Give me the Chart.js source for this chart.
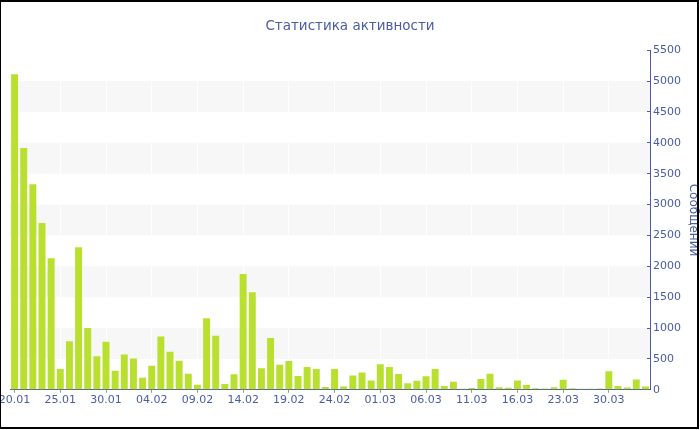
<!DOCTYPE html>
<html>
<head>
<meta charset="utf-8">
<script src="https://cdn.jsdelivr.net/npm/chart.js@4/dist/chart.umd.min.js"></script>
<style>
  body { margin: 0; background: #fff; }
  .wrap { position: relative; width: 700px; height: 430px; }
  .frame { position: absolute; left: 0; top: 0; width: 699px; height: 429px; box-sizing: border-box;
           border: 2px solid #000; border-left-width: 1px; pointer-events: none; }
</style>
</head>
<body>
<div class="wrap">
  <canvas id="myChart"></canvas>
  <div class="frame"></div>
</div>
<script>
// days (some days near the end are missing in the source)
const days = [
  '20.01','21.01','22.01','23.01','24.01','25.01','26.01','27.01','28.01','29.01','30.01','31.01',
  '01.02','02.02','03.02','04.02','05.02','06.02','07.02','08.02','09.02','10.02','11.02','12.02',
  '13.02','14.02','15.02','16.02','17.02','18.02','19.02','20.02','21.02','22.02','23.02','24.02',
  '25.02','26.02','27.02','28.02','01.03','02.03','03.03','04.03','05.03','06.03','07.03','08.03',
  '09.03','10.03','11.03','12.03','13.03','14.03','15.03','16.03','17.03','18.03','19.03','20.03',
  '23.03','24.03','25.03','26.03','27.03','30.03','31.03','01.04','02.04','03.04'
];
const messages = [
  5110, 3915, 3330, 2700, 2130, 335, 785, 2310, 1000, 545, 780, 310,
  570, 505, 195, 390, 865, 615, 470, 260, 80, 1160, 875, 95,
  250, 1875, 1580, 350, 840, 405, 465, 225, 370, 335, 45, 335,
  55, 232, 280, 150, 415, 370, 255, 108, 146, 221, 335, 62,
  129, 16, 30, 173, 259, 40, 32, 151, 78, 27, 22, 43,
  162, 27, 16, 16, 22, 302, 60, 38, 167, 54
];
const yMax = 5500;
const labelEvery = 5;

const blue = '#4a5ca3';
const font = 'DejaVu Sans';

// alternating grey bands behind the plot
const bands = {
  id: 'bands',
  beforeDraw(chart) {
    const {ctx, chartArea, scales} = chart;
    ctx.save();
    ctx.fillStyle = '#f7f7f7';
    for (let v = 500; v < yMax; v += 1000) {
      const y1 = scales.y.getPixelForValue(v + 500);
      const y2 = scales.y.getPixelForValue(v);
      ctx.fillRect(chartArea.left, y1, chartArea.right - chartArea.left, y2 - y1);
    }
    ctx.restore();
  }
};

const ctx = document.getElementById('myChart').getContext('2d');
const myChart = new Chart(ctx, {
  type: 'bar',
  data: {
    labels: days,
    datasets: [{
      label: 'Сообщений',
      data: messages,
      backgroundColor: '#b9e02f',
      borderWidth: 0,
      barPercentage: 0.8,
      categoryPercentage: 0.95
    }]
  },
  options: {
    responsive: true,
    maintainAspectRatio: false,
    animation: false,
    layout: { padding: {left: 0, top: 0, right: 0, bottom: 22} },
    plugins: {
      legend: { display: false },
      tooltip: { enabled: false },
      title: {
        display: true,
        text: 'Статистика активности',
        color: blue,
        font: {family: font, size: 13.5, weight: 'normal'},
        padding: {top: 18, bottom: 16}
      }
    },
    scales: {
      x: {
        offset: true,
        grid: {
          offset: false,
          drawOnChartArea: true,
          color: c => c.index % labelEvery === 0 ? '#ffffff' : 'rgba(0,0,0,0)',
          tickColor: c => c.index % labelEvery === 0 ? '#999999' : 'rgba(0,0,0,0)',
          tickLength: 3
        },
        border: { color: blue, width: 1 },
        ticks: {
          autoSkip: false,
          maxRotation: 0,
          padding: 1,
          color: blue,
          font: {family: font, size: 11},
          callback: (v, i) => i % labelEvery === 0 ? days[i] : ''
        },
        afterFit: s => { s.paddingLeft = 10; s.paddingRight = 0; }
      },
      y: {
        position: 'right',
        min: 0,
        max: yMax,
        grid: {
          drawOnChartArea: false,
          tickLength: -3,
          tickColor: c => c.tick.value % 500 === 0 ? blue : '#aaaaaa'
        },
        border: { color: blue, width: 1 },
        ticks: {
          stepSize: 250,
          maxTicksLimit: 30,
          padding: 6,
          color: blue,
          font: {family: font, size: 11},
          callback: v => v % 500 === 0 ? v : ''
        },
        title: {
          display: true,
          text: 'Сообщений',
          color: blue,
          font: {family: font, size: 12},
          padding: {top: 0, bottom: 5}
        },
        afterFit: s => { s.width = 50; }
      }
    }
  },
  plugins: [bands]
});
</script>
</body>
</html>
